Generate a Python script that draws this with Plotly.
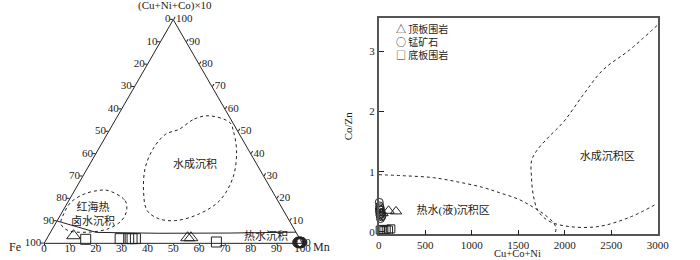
import plotly.graph_objects as go

# ---------------- Ternary data (percent) ----------------
# a = (Cu+Ni+Co)x10 (apex), b = Fe (left), c = Mn (right)
roof_a = [3.4, 2.5, 2.5]
roof_c = [9.7, 54.3, 55.6]
floor_a = [1.8, 2.1, 2.1, 2.1, 2.1, 0.6]
floor_c = [15.2, 28.4, 31.7, 33.0, 34.3, 66.4]
ore_a = [0.3, 0.5, 0.4, 0.6, 0.2, 0.7, 0.5, 0.3, 0.4, 0.6, 0.2, 0.5]
ore_c = [98.0, 98.3, 98.6, 98.9, 99.2, 99.5, 99.0, 98.4, 99.6, 98.1, 98.8, 99.3]

# field boundaries
hydro_a = [51.0, 55.6, 57.0, 54.0, 50.3, 41.4, 29.5, 19.1, 13.2, 10.2, 11.0, 14.7, 23.6, 34.0, 42.9, 48.8, 51.0]
hydro_c = [26.8, 30.4, 35.5, 44.9, 48.1, 53.8, 58.4, 58.4, 53.5, 45.9, 38.9, 32.5, 26.7, 22.2, 21.1, 22.7, 26.8]
redsea_a = [23.6, 19.1, 14.7, 10.2, 6.5, 5.0, 5.8, 8.8, 13.2, 18.4, 22.1, 23.6, 23.6]
redsea_c = [13.0, 21.8, 24.6, 24.9, 21.5, 14.5, 6.2, 2.1, 1.0, 1.2, 4.6, 9.1, 13.0]
hot_a = [10.0, 4.9, 4.5, 4.6, 5.0]
hot_c = [0.0, 17.7, 42.2, 69.6, 95.0]

tern_labels = ["水成沉积", "红海热<br>卤水沉积", "热水沉积"]
tern_label_a = [34.7, 12.5, 2.7]
tern_label_c = [41.1, 12.7, 84.6]

# tick values along the triangle's edges (left: Fe, right: (Cu+Ni+Co)x10, bottom: Mn)
tern_ticks = [0, 10, 20, 30, 40, 50, 60, 70, 80, 90, 100]

# ---------------- Cartesian data ----------------
roof_x = [40, 105, 185]
roof_y = [0.31, 0.35, 0.34]
ore_x = [5, 10, 15, 20, 8, 25, 12, 30, 18, 6, 22, 35]
ore_y = [0.49, 0.43, 0.40, 0.36, 0.33, 0.30, 0.28, 0.25, 0.22, 0.38, 0.31, 0.27]
floor_x = [15, 35, 55, 80, 105, 130]
floor_y = [0.03, 0.04, 0.02, 0.04, 0.03, 0.05]

curve1_x = [0, 300, 590, 850, 1116, 1300, 1505, 1650, 1780, 1880, 1905, 1895]
curve1_y = [0.95, 0.93, 0.90, 0.83, 0.74, 0.65, 0.54, 0.42, 0.29, 0.15, 0.06, -0.04]
curve2_x = [2994, 2695, 2411, 2200, 1994, 1818, 1695, 1643, 1643, 1660, 1713, 1818, 1994, 2345, 2695, 2994]
curve2_y = [3.43, 3.02, 2.69, 2.28, 1.84, 1.56, 1.34, 1.18, 0.90, 0.63, 0.35, 0.19, 0.10, 0.085, 0.24, 0.47]

cart_labels = ["水成沉积区", "热水(液)沉积区"]
cart_label_x = [2457, 800]
cart_label_y = [1.24, 0.35]

x_ticks = [0, 500, 1000, 1500, 2000, 2500, 3000]
y_ticks = [0, 1, 2, 3]

legend_names = ["顶板围岩", "锰矿石", "底板围岩"]
legend_glyphs = ["△", "○", "□"]

FONT = "Liberation Serif, Noto Sans CJK SC"
CJK = "Noto Sans CJK SC"
INK = "#222"

def bvals(a, c):
    return [100 - ai - ci for ai, ci in zip(a, c)]

fig = go.Figure()

# ternary fields
fig.add_trace(go.Scatterternary(a=hydro_a, b=bvals(hydro_a, hydro_c), c=hydro_c, mode="lines",
                                line=dict(color=INK, width=1, dash="dot", shape="spline"),
                                showlegend=False, hoverinfo="skip"))
fig.add_trace(go.Scatterternary(a=redsea_a, b=bvals(redsea_a, redsea_c), c=redsea_c, mode="lines",
                                line=dict(color=INK, width=1, dash="dot", shape="spline"),
                                showlegend=False, hoverinfo="skip"))
fig.add_trace(go.Scatterternary(a=hot_a, b=bvals(hot_a, hot_c), c=hot_c, mode="lines",
                                line=dict(color=INK, width=1),
                                showlegend=False, hoverinfo="skip"))
fig.add_trace(go.Scatterternary(a=tern_label_a, b=bvals(tern_label_a, tern_label_c), c=tern_label_c,
                                mode="text", text=tern_labels,
                                textfont=dict(family=FONT, size=11, color=INK),
                                showlegend=False, hoverinfo="skip"))

# ternary tick labels placed on the edges
tick_font = dict(family=FONT, size=11, color=INK)
fig.add_trace(go.Scatterternary(a=[100 - t for t in tern_ticks], b=tern_ticks, c=[0] * len(tern_ticks),
                                mode="text", text=[str(t) + " " for t in tern_ticks],
                                textposition="middle left", textfont=tick_font, cliponaxis=False,
                                showlegend=False, hoverinfo="skip"))
fig.add_trace(go.Scatterternary(a=tern_ticks, b=[0] * len(tern_ticks), c=[100 - t for t in tern_ticks],
                                mode="text", text=[" " + str(t) for t in tern_ticks],
                                textposition="middle right", textfont=tick_font, cliponaxis=False,
                                showlegend=False, hoverinfo="skip"))
fig.add_trace(go.Scatterternary(a=[0] * len(tern_ticks), b=[100 - t for t in tern_ticks], c=tern_ticks,
                                mode="text", text=[str(t) for t in tern_ticks],
                                textposition="bottom center", textfont=tick_font, cliponaxis=False,
                                showlegend=False, hoverinfo="skip"))

fig.add_trace(go.Scatterternary(a=roof_a, b=bvals(roof_a, roof_c), c=roof_c, mode="markers",
                                marker=dict(symbol="triangle-up-open", size=12, color=INK, line=dict(width=1)),
                                showlegend=False, cliponaxis=False))
fig.add_trace(go.Scatterternary(a=floor_a, b=bvals(floor_a, floor_c), c=floor_c, mode="markers",
                                marker=dict(symbol="square-open", size=10, color=INK, line=dict(width=1)),
                                showlegend=False, cliponaxis=False))
fig.add_trace(go.Scatterternary(a=ore_a, b=bvals(ore_a, ore_c), c=ore_c, mode="markers",
                                marker=dict(symbol="circle-open", size=10, color=INK, line=dict(width=1)),
                                showlegend=False, cliponaxis=False))

# cartesian
fig.add_trace(go.Scatter(x=curve1_x, y=curve1_y, mode="lines",
                         line=dict(color=INK, width=1, dash="dot", shape="spline"),
                         showlegend=False, hoverinfo="skip"))
fig.add_trace(go.Scatter(x=curve2_x, y=curve2_y, mode="lines",
                         line=dict(color=INK, width=1, dash="dot", shape="spline"),
                         showlegend=False, hoverinfo="skip"))
fig.add_trace(go.Scatter(x=cart_label_x, y=cart_label_y, mode="text", text=cart_labels,
                         textfont=dict(family=FONT, size=11, color=INK),
                         showlegend=False, hoverinfo="skip"))
fig.add_trace(go.Scatter(x=roof_x, y=roof_y, mode="markers", name=legend_names[0], showlegend=False,
                         marker=dict(symbol="triangle-up-open", size=10, color=INK, line=dict(width=1)),
                         cliponaxis=False))
fig.add_trace(go.Scatter(x=ore_x, y=ore_y, mode="markers", name=legend_names[1], showlegend=False,
                         marker=dict(symbol="circle-open", size=8, color=INK, line=dict(width=1)),
                         cliponaxis=False))
fig.add_trace(go.Scatter(x=floor_x, y=floor_y, mode="markers", name=legend_names[2], showlegend=False,
                         marker=dict(symbol="square-open", size=8, color=INK, line=dict(width=1)),
                         cliponaxis=False))

tern_axis = dict(tickmode="array", tickvals=tern_ticks, showticklabels=False,
                 ticks="outside", ticklen=3, tickcolor=INK, linecolor=INK, linewidth=1,
                 showgrid=False, title=dict(text=""))

annots = [
    dict(text="(Cu+Ni+Co)×10", x=176 / 700, y=1 - 6 / 260, xref="paper", yref="paper",
         xanchor="center", yanchor="middle", showarrow=False, font=dict(family=FONT, size=11, color=INK)),
    dict(text="Fe", x=12 / 700, y=1 - 250 / 260, xref="paper", yref="paper",
         xanchor="center", yanchor="middle", showarrow=False, font=dict(family=FONT, size=12, color=INK)),
    dict(text="Mn", x=325 / 700, y=1 - 250 / 260, xref="paper", yref="paper",
         xanchor="center", yanchor="middle", showarrow=False, font=dict(family=FONT, size=12, color=INK)),
    dict(text="Cu+Co+Ni", x=526 / 700, y=1 - 256.5 / 260, xref="paper", yref="paper",
         xanchor="center", yanchor="middle", showarrow=False, font=dict(family=FONT, size=10.5, color=INK)),
]
for i, (g, n) in enumerate(zip(legend_glyphs, legend_names)):
    annots.append(dict(text=g + " " + n, x=400 / 700, y=1 - (29 + 13 * i) / 260, xref="paper", yref="paper",
                       xanchor="left", yanchor="middle", showarrow=False,
                       font=dict(family=CJK, size=10, color=INK)))

fig.update_layout(
    width=700, height=260, margin=dict(l=0, r=0, t=0, b=0),
    paper_bgcolor="white", plot_bgcolor="white",
    font=dict(family=FONT, size=11, color=INK),
    showlegend=False,
    ternary=dict(domain=dict(x=[0.060, 0.4371], y=[0.0488, 0.928]), sum=100, bgcolor="white",
                 aaxis=tern_axis, baxis=tern_axis, caxis=tern_axis),
    xaxis=dict(domain=[0.5486, 0.9557], range=[0, 3000], tickmode="array", tickvals=x_ticks,
               ticks="inside", ticklen=5, tickcolor=INK, showline=True, mirror=True,
               linecolor="#555", linewidth=1.5, showgrid=False, zeroline=False,
               tickfont=dict(family=FONT, size=11, color=INK)),
    yaxis=dict(domain=[0.0885, 0.929], range=[-0.04, 3.55], tickmode="array", tickvals=y_ticks,
               ticks="inside", ticklen=5, tickcolor=INK, showline=True, mirror=True,
               linecolor="#555", linewidth=1.5, showgrid=False, zeroline=False,
               tickfont=dict(family=FONT, size=11, color=INK),
               title=dict(text="Co/Zn", standoff=14, font=dict(family=FONT, size=11, color=INK))),
    annotations=annots,
)

fig.write_html("out.html")
